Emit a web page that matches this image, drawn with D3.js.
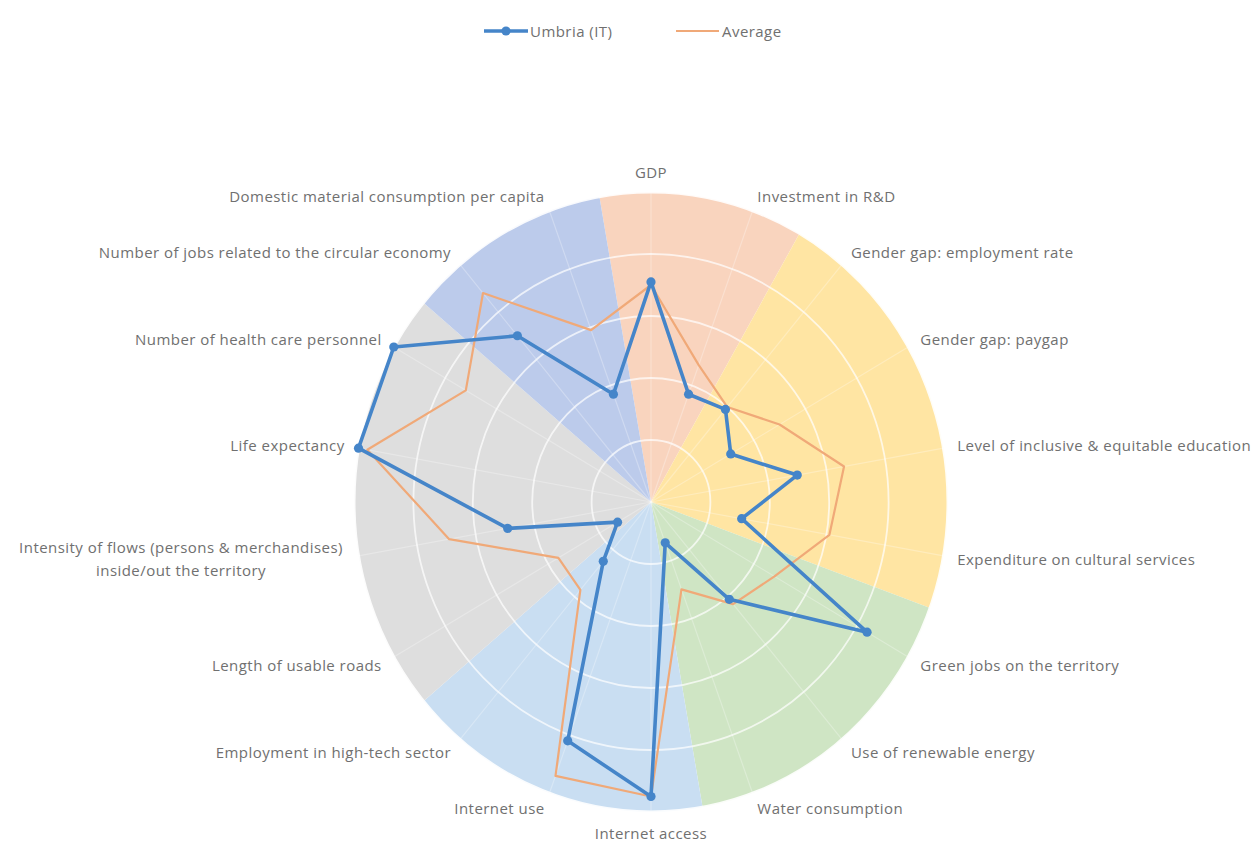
<!DOCTYPE html>
<html>
<head>
<meta charset="utf-8">
<script src="https://cdn.jsdelivr.net/npm/d3@7"></script>
<style>
  html, body { margin: 0; padding: 0; background: #ffffff; }
  svg { display: block; }
  text { font-family: "Open Sans", "Liberation Sans", sans-serif; fill: #707070; letter-spacing: 0.45px; }
</style>
</head>
<body>
<svg id="chart" width="1259" height="845"></svg>
<script>
// Indicators, clockwise from the top
const categories = [
  "GDP",
  "Investment in R&D",
  "Gender gap: employment rate",
  "Gender gap: paygap",
  "Level of inclusive & equitable education",
  "Expenditure on cultural services",
  "Green jobs on the territory",
  "Use of renewable energy",
  "Water consumption",
  "Internet access",
  "Internet use",
  "Employment in high-tech sector",
  "Length of usable roads",
  "Intensity of flows (persons & merchandises)\ninside/out the territory",
  "Life expectancy",
  "Number of health care personnel",
  "Number of jobs related to the circular economy",
  "Domestic material consumption per capita"
];

// Normalised scores (0 = centre, 1 = outer ring)
const umbria  = [0.71, 0.37, 0.39, 0.31, 0.50, 0.31, 0.84, 0.41, 0.14, 0.95, 0.82, 0.25, 0.13, 0.49, 1.00, 1.00, 0.70, 0.37];
const average = [0.70, 0.47, 0.40, 0.50, 0.66, 0.61, 0.48, 0.43, 0.30, 0.95, 0.94, 0.37, 0.36, 0.69, 0.97, 0.72, 0.88, 0.59];

const seriesNames = ["Umbria (IT)", "Average"];

// Thematic groups behind the radar: number of consecutive indicators in each
const groupSizes  = [2, 4, 3, 3, 4, 2];
const groupColors = ["#f9d4be", "#ffe5a3", "#cfe5c4", "#c9def2", "#dedede", "#bccbeb"];

const ringTicks = [0.2, 0.4, 0.6, 0.8, 1.0];

const svg = d3.select("#chart");
const cx = 651, cy = 502;
const RX = 297, RY = 310;
const ky = RY / RX;

const r = d3.scaleLinear().domain([0, 1]).range([0, RX]);
const n = categories.length;
const angle = d3.scaleLinear().domain([0, n]).range([0, 2 * Math.PI]);
const step = angle(1);

const px = (i, v) => cx + r(v) * Math.sin(angle(i));
const py = (i, v) => cy - r(v) * ky * Math.cos(angle(i));

// Coloured group sectors
const bg = svg.append("g").attr("transform", `translate(${cx},${cy}) scale(1,${ky})`);
const pie = d3.pie().sort(null).value(d => d)
  .startAngle(-step / 2).endAngle(2 * Math.PI - step / 2);
const arc = d3.arc().innerRadius(0).outerRadius(r(1));
bg.selectAll("path.sector")
  .data(pie(groupSizes))
  .join("path")
  .attr("class", "sector")
  .attr("d", arc)
  .attr("fill", (d, i) => groupColors[i]);

// Rings
bg.selectAll("circle.ring")
  .data(ringTicks)
  .join("circle")
  .attr("class", "ring")
  .attr("r", d => r(d))
  .attr("fill", "none")
  .attr("stroke", "#ffffff")
  .attr("stroke-opacity", (d, i) => i === ringTicks.length - 1 ? 0.9 : 0.7)
  .attr("stroke-width", (d, i) => i === ringTicks.length - 1 ? 3 : 1.8)
  .attr("vector-effect", "non-scaling-stroke");

// Spokes
svg.append("g").selectAll("line.spoke")
  .data(categories)
  .join("line")
  .attr("class", "spoke")
  .attr("x1", cx).attr("y1", cy)
  .attr("x2", (d, i) => px(i, 1))
  .attr("y2", (d, i) => py(i, 1))
  .attr("stroke", "#ffffff")
  .attr("stroke-opacity", 0.28)
  .attr("stroke-width", 1.2);

// Series lines
const line = d3.line().curve(d3.curveLinearClosed);
const pts = vals => vals.map((v, i) => [px(i, v), py(i, v)]);

svg.append("path")
  .attr("d", line(pts(average)))
  .attr("fill", "none")
  .attr("stroke", "#f0a978")
  .attr("stroke-width", 2.2)
  .attr("stroke-linejoin", "round");

svg.append("path")
  .attr("d", line(pts(umbria)))
  .attr("fill", "none")
  .attr("stroke", "#4585c9")
  .attr("stroke-width", 3.6)
  .attr("stroke-linejoin", "round");

svg.append("g").selectAll("circle.marker")
  .data(umbria)
  .join("circle")
  .attr("class", "marker")
  .attr("cx", (d, i) => px(i, d))
  .attr("cy", (d, i) => py(i, d))
  .attr("r", 4.6)
  .attr("fill", "#4585c9");

// Category labels
const LX = 311, LY = 326;
const labels = svg.append("g").attr("font-size", 15);
categories.forEach((c, i) => {
  const a = angle(i);
  const s = Math.sin(a), co = Math.cos(a);
  let anchor = "middle";
  if (s > 0.01) anchor = "start";
  else if (s < -0.01) anchor = "end";
  let x = cx + LX * s;
  let y = cy - LY * co;
  if (Math.abs(s) < 0.01) y = co > 0 ? cy - 330 : cy + 331;
  const linesTxt = c.split("\n");
  const multi = linesTxt.length > 1;
  if (multi) x = 181;
  const t = labels.append("text")
    .attr("text-anchor", multi ? "middle" : anchor)
    .attr("x", x)
    .attr("y", y - (linesTxt.length - 1) * 12)
    .attr("dominant-baseline", "central");
  linesTxt.forEach((ln, k) => {
    t.append("tspan")
      .attr("x", x)
      .attr("dy", k === 0 ? 0 : 23)
      .text(ln);
  });
});

// Legend
const lg = svg.append("g").attr("font-size", 15);
lg.append("line").attr("x1", 484).attr("x2", 528).attr("y1", 31).attr("y2", 31)
  .attr("stroke", "#4585c9").attr("stroke-width", 3.6);
lg.append("circle").attr("cx", 506).attr("cy", 31).attr("r", 4.6).attr("fill", "#4585c9");
lg.append("text").attr("x", 530).attr("y", 31).attr("dominant-baseline", "central").text(seriesNames[0]);
lg.append("line").attr("x1", 676).attr("x2", 719).attr("y1", 31).attr("y2", 31)
  .attr("stroke", "#f0a978").attr("stroke-width", 2.2);
lg.append("text").attr("x", 722).attr("y", 31).attr("dominant-baseline", "central").text(seriesNames[1]);
</script>
</body>
</html>
